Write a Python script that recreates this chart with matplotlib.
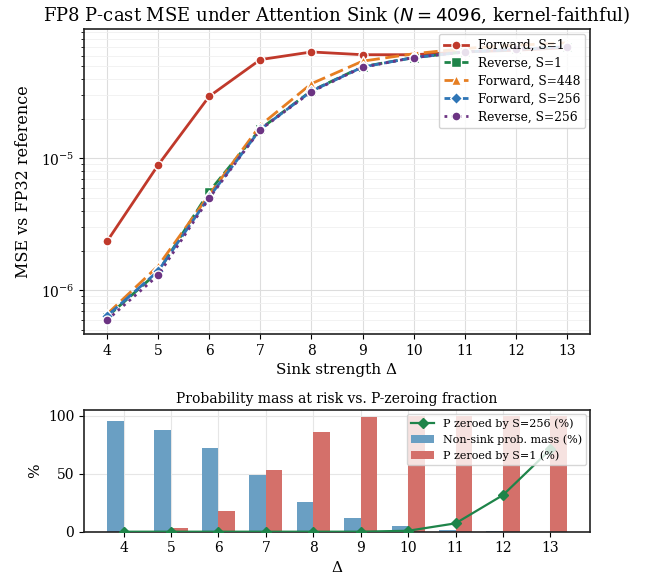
import numpy as np
import matplotlib
matplotlib.use("Agg")
import matplotlib.pyplot as plt

plt.rcParams['font.family'] = ['DejaVu Serif']
plt.rcParams['mathtext.fontset'] = 'dejavusans'

delta = [4, 5, 6, 7, 8, 9, 10, 11, 12, 13]

fwd_s1   = [2.35e-6, 8.9e-6, 2.95e-5, 5.6e-5, 6.4e-5, 6.1e-5, 6.1e-5, 6.4e-5, 6.6e-5, 6.9e-5]
rev_s1   = [6.3e-7, 1.38e-6, 5.6e-6, 1.67e-5, 3.25e-5, 4.95e-5, 5.8e-5, 6.4e-5, 6.7e-5, 7.0e-5]
fwd_s448 = [6.6e-7, 1.53e-6, 5.3e-6, 1.78e-5, 3.68e-5, 5.45e-5, 6.2e-5, 6.8e-5, 7.2e-5, 7.5e-5]
fwd_s256 = [6.4e-7, 1.40e-6, 5.1e-6, 1.66e-5, 3.23e-5, 4.92e-5, 5.8e-5, 6.4e-5, 6.7e-5, 7.0e-5]
rev_s256 = [5.95e-7, 1.30e-6, 5.0e-6, 1.65e-5, 3.2e-5, 4.9e-5, 5.8e-5, 6.4e-5, 6.7e-5, 6.97e-5]

nonsink_mass = [95.1, 87.4, 71.9, 48.7, 25.5, 12.0, 4.9, 1.4, 0.3, 0.1]
zero_s1      = [0.0, 3.4, 17.8, 53.3, 85.7, 98.9, 100.0, 100.0, 100.0, 100.0]
zero_s256    = [0.0, 0.0, 0.0, 0.0, 0.0, 0.0, 0.8, 7.2, 31.5, 70.8]

W, H = 652, 578
fig = plt.figure(figsize=(W / 100, H / 100), dpi=100)
ax1 = fig.add_axes([84 / W, 1 - 334 / H, 506 / W, 305 / H])
ax2 = fig.add_axes([84 / W, 1 - 531.7 / H, 506 / W, 122 / H])

series = [
    (fwd_s1, "Forward, S=1", "#c0392b", "-", "o"),
    (rev_s1, "Reverse, S=1", "#1e8449", (0, (4, 1.6)), "s"),
    (fwd_s448, "Forward, S=448", "#e67e22", (0, (5, 2)), "^"),
    (fwd_s256, "Forward, S=256", "#2e75b6", (0, (5, 1.6)), "D"),
    (rev_s256, "Reverse, S=256", "#6c3483", (0, (1, 1.6)), "o"),
]
for vals, lab, col, ls, mk in series:
    ax1.plot(delta, vals, color=col, linestyle=ls, marker=mk, lw=2,
             ms=6.5 if mk != "D" else 6, markeredgecolor="white",
             markeredgewidth=1.0, label=lab)

ax1.set_yscale("log")
ax1.set_xticks(delta)
ax1.grid(True, which="major", color="#dddddd", lw=0.8)
ax1.grid(True, which="minor", color="#f0f0f0", lw=0.6)
ax1.set_axisbelow(True)
ax1.set_xlabel("Sink strength Δ", fontsize=11)
ax1.set_ylabel("MSE vs FP32 reference", fontsize=11.5, labelpad=6)
ax1.set_title("FP8 P-cast MSE under Attention Sink ($N = 4096$, kernel-faithful)",
              fontsize=13, pad=6)
ax1.tick_params(labelsize=10)
ax1.legend(loc="upper right", fontsize=8.8, framealpha=0.85, edgecolor="#cccccc",
           handlelength=2.0, borderaxespad=0.4, labelspacing=0.4)

x = np.array(delta, dtype=float)
bw = 0.35
ax2.bar(x - bw / 2, nonsink_mass, width=bw, color="#6a9fc3",
        label="Non-sink prob. mass (%)", zorder=2)
ax2.bar(x + bw / 2, zero_s1, width=bw, color="#d4706a",
        label="P zeroed by S=1 (%)", zorder=2)
ax2.plot(delta, zero_s256, color="#1e8449", marker="D", ms=5, lw=1.6,
         label="P zeroed by S=256 (%)", zorder=3)
ax2.set_xticks(delta)
ax2.set_yticks([0, 50, 100])
ax2.grid(True, color="#e6e6e6", lw=0.8)
ax2.set_axisbelow(True)
ax2.set_xlabel("Δ", fontsize=11)
ax2.set_ylabel("%", fontsize=11)
ax2.set_title("Probability mass at risk vs. P-zeroing fraction", fontsize=10, pad=5)
ax2.tick_params(labelsize=10)
ax2.legend(loc="upper right", fontsize=8, framealpha=0.8, edgecolor="#cccccc",
           borderaxespad=0.35, labelspacing=0.5)

for ax in (ax1, ax2):
    for s in ax.spines.values():
        s.set_color("#222222")
        s.set_linewidth(1.2)

fig.savefig("out.png", dpi=100)
